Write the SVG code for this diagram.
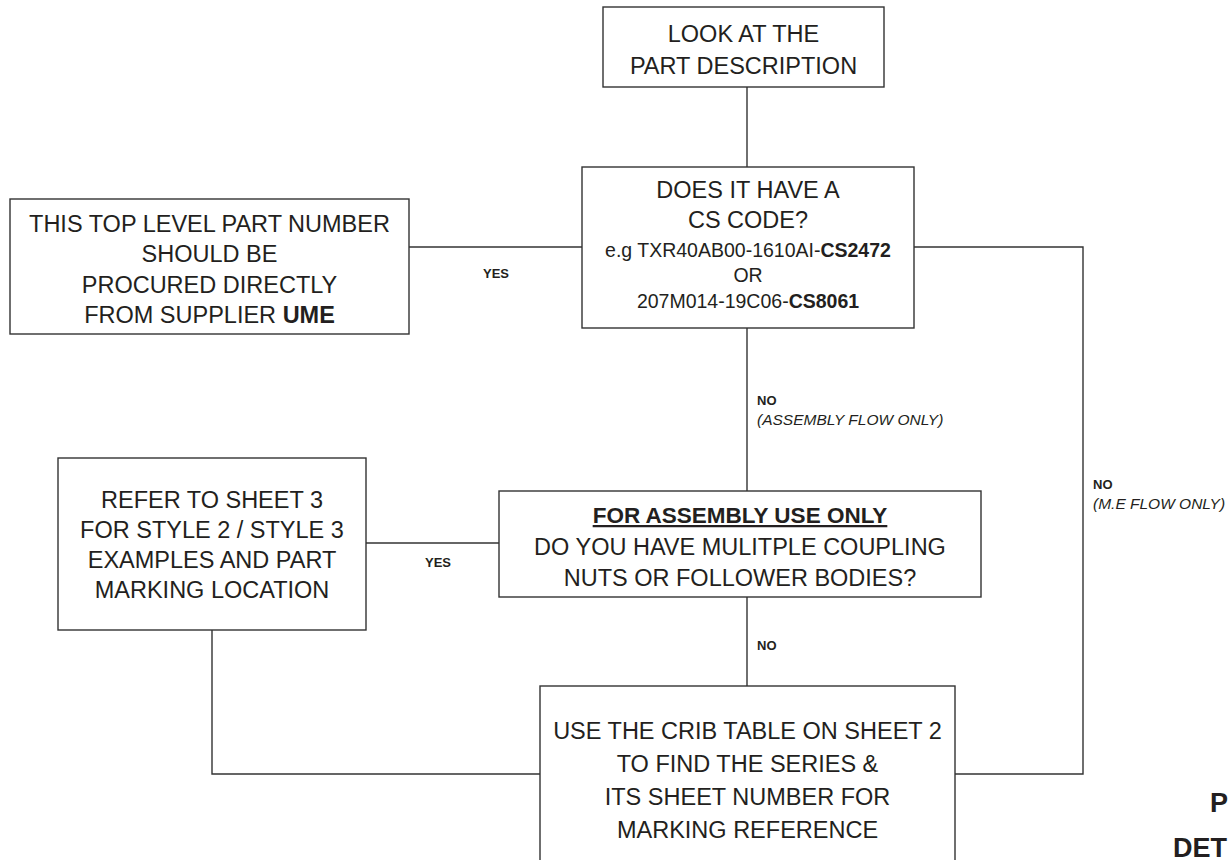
<svg xmlns="http://www.w3.org/2000/svg" width="1230" height="860" viewBox="0 0 1230 860">
<style>
.box{fill:#fff;stroke:#333;stroke-width:1.4}
.conn{fill:none;stroke:#333;stroke-width:1.4}
.t{font-family:"Liberation Sans",Arial,sans-serif;font-size:23.5px;fill:#231f20;text-anchor:middle}
.s{font-size:19.5px}
.b{font-weight:bold}
.lbl{font-family:"Liberation Sans",Arial,sans-serif;font-size:13px;font-weight:bold;fill:#231f20}
.it{font-family:"Liberation Sans",Arial,sans-serif;font-size:15.5px;font-style:italic;fill:#231f20}
.big{font-family:"Liberation Sans",Arial,sans-serif;font-size:27px;font-weight:bold;fill:#231f20}
</style>
<rect width="1230" height="860" fill="#fff"/>
<g id="connectors">
<path class="conn" d="M747 87V167"/>
<path class="conn" d="M409 247H582"/>
<path class="conn" d="M914 247H1083V774H955"/>
<path class="conn" d="M747 328V491"/>
<path class="conn" d="M366 543H499"/>
<path class="conn" d="M747 597V686"/>
<path class="conn" d="M212 630V774H540"/>
<text class="lbl" x="483" y="278">YES</text>
<text class="lbl" x="757" y="405">NO</text>
<text class="it" x="757" y="425">(ASSEMBLY FLOW ONLY)</text>
<text class="lbl" x="1093" y="489">NO</text>
<text class="it" x="1093" y="509">(M.E FLOW ONLY)</text>
<text class="lbl" x="425" y="567">YES</text>
<text class="lbl" x="757" y="650">NO</text>
</g>
<g id="n1">
<rect class="box" x="603" y="7" width="281" height="80"/>
<text class="t" x="743.5" y="42">LOOK AT THE</text>
<text class="t" x="743.5" y="74">PART DESCRIPTION</text>
</g>
<g id="n2">
<rect class="box" x="582" y="167" width="332" height="161"/>
<text class="t" x="748" y="198">DOES IT HAVE A</text>
<text class="t" x="748" y="228">CS CODE?</text>
<text class="t s" x="748" y="257">e.g TXR40AB00-1610AI-<tspan class="b">CS2472</tspan></text>
<text class="t s" x="748" y="282">OR</text>
<text class="t s" x="748" y="308">207M014-19C06-<tspan class="b">CS8061</tspan></text>
</g>
<g id="n3">
<rect class="box" x="10" y="199" width="399" height="135"/>
<text class="t" x="209.5" y="232">THIS TOP LEVEL PART NUMBER</text>
<text class="t" x="209.5" y="262">SHOULD BE</text>
<text class="t" x="209.5" y="293">PROCURED DIRECTLY</text>
<text class="t" x="209.5" y="323">FROM SUPPLIER <tspan class="b">UME</tspan></text>
</g>
<g id="n4">
<rect class="box" x="58" y="458" width="308" height="172"/>
<text class="t" x="212" y="508">REFER TO SHEET 3</text>
<text class="t" x="212" y="538">FOR STYLE 2 / STYLE 3</text>
<text class="t" x="212" y="568">EXAMPLES AND PART</text>
<text class="t" x="212" y="598">MARKING LOCATION</text>
</g>
<g id="n5">
<rect class="box" x="499" y="491" width="482" height="106"/>
<text class="t b" x="740" y="523" style="font-size:22.5px;text-decoration:underline">FOR ASSEMBLY USE ONLY</text>
<text class="t" x="740" y="555">DO YOU HAVE MULITPLE COUPLING</text>
<text class="t" x="740" y="586">NUTS OR FOLLOWER BODIES?</text>
</g>
<g id="n6">
<rect class="box" x="540" y="686" width="415" height="200"/>
<text class="t" x="747.5" y="739">USE THE CRIB TABLE ON SHEET 2</text>
<text class="t" x="747.5" y="772">TO FIND THE SERIES &amp;</text>
<text class="t" x="747.5" y="805">ITS SHEET NUMBER FOR</text>
<text class="t" x="747.5" y="838">MARKING REFERENCE</text>
</g>
<g id="corner">
<text class="big" x="1210" y="812">P</text>
<text class="big" x="1173" y="857">DET</text>
</g>
</svg>
